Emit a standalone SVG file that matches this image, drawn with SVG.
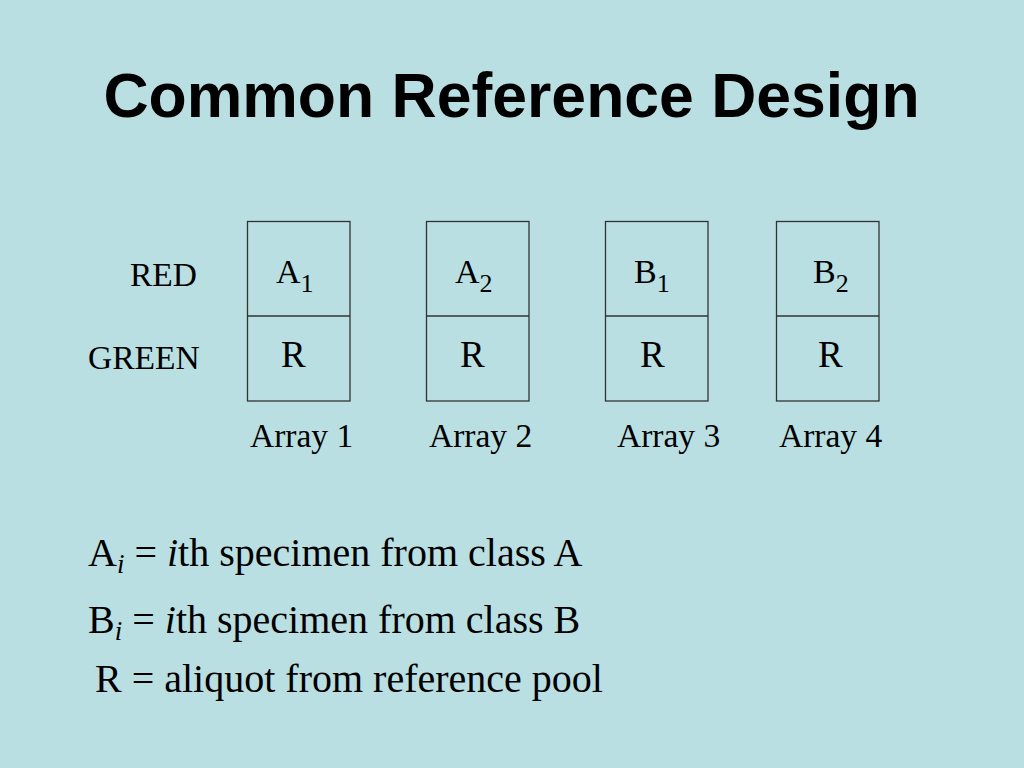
<svg xmlns="http://www.w3.org/2000/svg" width="1024" height="768" viewBox="0 0 1024 768">
<style>
.t{font-family:"Liberation Serif","Times New Roman",serif;fill:#000}
.box{fill:none;stroke:#333;stroke-width:1.3}
.lbl{font-size:33.5px}
.cell{font-size:34px}
.rr{font-size:37px}
.sub{font-size:26px}
.leg{font-size:40px}
.lsub{font-size:27px}
</style>
<rect width="1024" height="768" fill="#B9DFE3"/>
<text x="511.5" y="117" text-anchor="middle" style="font-family:'Liberation Sans',Arial,sans-serif;font-weight:bold;font-size:62.5px">Common Reference Design</text>
<text class="t lbl" x="130" y="286">RED</text>
<text class="t lbl" x="88" y="369">GREEN</text>
<g id="array1">
<rect class="box" x="247.5" y="221.5" width="102.5" height="179.5"/>
<line class="box" x1="247.5" y1="316" x2="350" y2="316"/>
<text class="t cell" x="276" y="283">A<tspan class="sub" dy="9">1</tspan></text>
<text class="t rr" x="281" y="367">R</text>
<text class="t lbl" x="250" y="447">Array 1</text>
</g>
<g id="array2">
<rect class="box" x="426.5" y="221.5" width="102.5" height="179.5"/>
<line class="box" x1="426.5" y1="316" x2="529" y2="316"/>
<text class="t cell" x="455" y="283">A<tspan class="sub" dy="9">2</tspan></text>
<text class="t rr" x="460" y="367">R</text>
<text class="t lbl" x="429" y="447">Array 2</text>
</g>
<g id="array3">
<rect class="box" x="605.5" y="221.5" width="102.5" height="179.5"/>
<line class="box" x1="605.5" y1="316" x2="708" y2="316"/>
<text class="t cell" x="634" y="283">B<tspan class="sub" dy="9">1</tspan></text>
<text class="t rr" x="640" y="367">R</text>
<text class="t lbl" x="617" y="447">Array 3</text>
</g>
<g id="array4">
<rect class="box" x="776.5" y="221.5" width="102.5" height="179.5"/>
<line class="box" x1="776.5" y1="316" x2="879" y2="316"/>
<text class="t cell" x="813" y="283">B<tspan class="sub" dy="9">2</tspan></text>
<text class="t rr" x="818" y="367">R</text>
<text class="t lbl" x="779" y="447">Array 4</text>
</g>
<g id="connectors"></g>
<g id="legend">
<text class="t leg" x="88" y="566">A<tspan class="lsub" dy="7" font-style="italic">i</tspan><tspan dy="-7"> = </tspan><tspan font-style="italic">i</tspan>th specimen from class A</text>
<text class="t leg" x="88" y="633">B<tspan class="lsub" dy="7" font-style="italic">i</tspan><tspan dy="-7"> = </tspan><tspan font-style="italic">i</tspan>th specimen from class B</text>
<text class="t leg" x="95" y="692">R = aliquot from reference pool</text>
</g>
</svg>
